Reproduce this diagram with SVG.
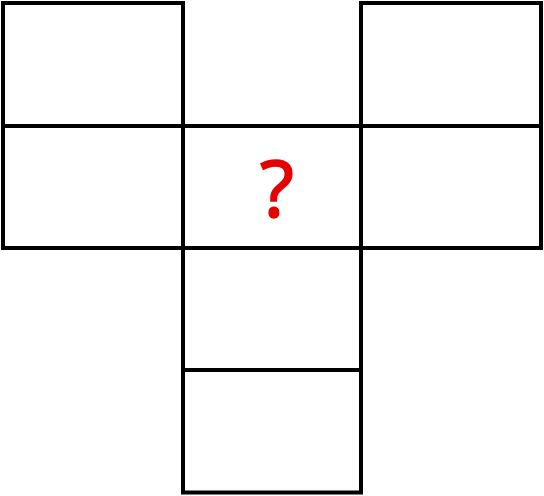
<svg xmlns="http://www.w3.org/2000/svg" width="544" height="496" viewBox="0 0 544 496">
<style>
.cell{fill:#fff;stroke:#000;stroke-width:4}
.q{font-family:"Noto Sans","Open Sans",sans-serif;font-size:78px;fill:#e60000;stroke:#e60000;stroke-width:1.5;text-anchor:middle}
</style>
<rect width="544" height="496" fill="#fff"/>
<g id="c1"><rect class="cell" x="3" y="3" width="180" height="123"/></g>
<g id="c2"><rect class="cell" x="361" y="3" width="180" height="123"/></g>
<g id="c3"><rect class="cell" x="3" y="126" width="180" height="122"/></g>
<g id="c4"><rect class="cell" x="183" y="126" width="178" height="122"/><text class="q" x="277" y="217">?</text></g>
<g id="c5"><rect class="cell" x="361" y="126" width="180" height="122"/></g>
<g id="c6"><rect class="cell" x="183" y="248" width="178" height="122"/></g>
<g id="c7"><rect class="cell" x="183" y="370" width="178" height="122.5"/></g>
<g id="connectors"></g>
</svg>
